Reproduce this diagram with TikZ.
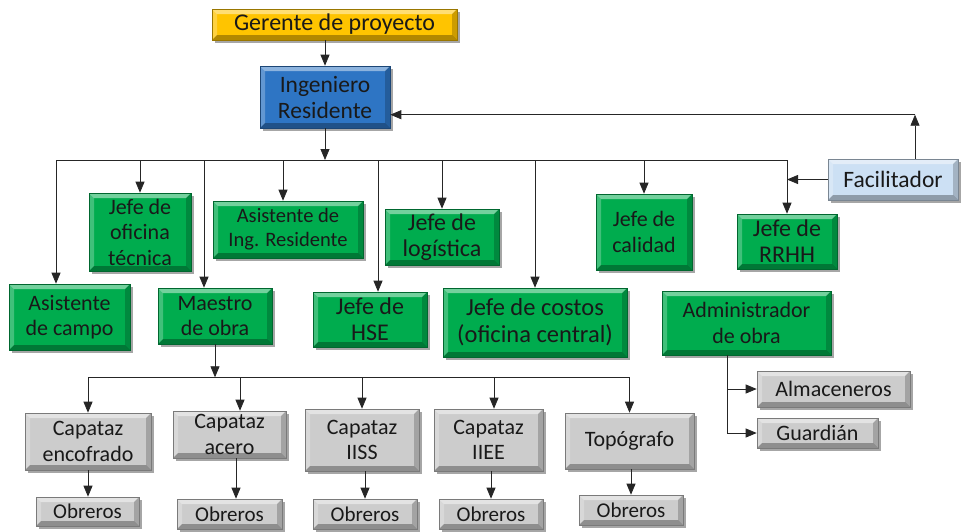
\documentclass[tikz,border=0pt]{standalone}
\usepackage{fontspec}
\setmainfont{Carlito}
\usetikzlibrary{arrows.meta,shadows,calc}
\definecolor{gfill}{RGB}{0,172,78}
\definecolor{yfill}{RGB}{255,196,0}
\definecolor{bfill}{RGB}{46,117,196}
\definecolor{lbfill}{RGB}{204,224,244}
\definecolor{sfill}{RGB}{204,204,204}
\newcommand{\bvA}{(path picture bounding box.north west)}
\newcommand{\bvB}{(path picture bounding box.north east)}
\newcommand{\bvC}{(path picture bounding box.south east)}
\newcommand{\bvD}{(path picture bounding box.south west)}
\tikzset{
  bevel/.style={path picture={
    \fill[white,opacity=.45] \bvA -- \bvB -- ([xshift=-5pt,yshift=-5pt]path picture bounding box.north east) -- ([xshift=5pt,yshift=-5pt]path picture bounding box.north west) -- cycle;
    \fill[white,opacity=.25] \bvA -- ([xshift=5pt,yshift=-5pt]path picture bounding box.north west) -- ([xshift=5pt,yshift=5pt]path picture bounding box.south west) -- \bvD -- cycle;
    \fill[black,opacity=.30] \bvD -- ([xshift=5pt,yshift=5pt]path picture bounding box.south west) -- ([xshift=-5pt,yshift=5pt]path picture bounding box.south east) -- \bvC -- cycle;
    \fill[black,opacity=.20] \bvC -- ([xshift=-5pt,yshift=5pt]path picture bounding box.south east) -- ([xshift=-5pt,yshift=-5pt]path picture bounding box.north east) -- \bvB -- cycle;
  }},
  box/.style={fill=#1, draw=#1!60!black, line width=0.6pt, inner sep=0pt, align=center,
    text=black!90, font=\fontsize{22}{25.5}\selectfont, bevel,
    drop shadow={shadow xshift=2.5pt, shadow yshift=-2.5pt, opacity=0.35, fill=black}},
  gbox/.style={box=gfill},
  sbox/.style={box=sfill},
  ln/.style={draw=black!85, line width=0.8pt},
  arr/.style={ln, -{Triangle[width=9pt,length=11pt]}},
}
\begin{document}
\begin{tikzpicture}[x=1pt,y=-1pt]
\useasboundingbox (0,0) rectangle (961,531);
% top
\node[box=yfill, minimum width=245, minimum height=31, font=\fontsize{24}{27}\selectfont] (ger) at (334.5,24.5) {Gerente de proyecto};
\node[box=bfill, minimum width=130, minimum height=62, font=\fontsize{23.5}{26}\selectfont] (ir) at (325,97) {Ingeniero\\Residente};
\node[box=lbfill, minimum width=130, minimum height=41, font=\fontsize{23.5}{26}\selectfont] (fac) at (893,179.5) {Facilitador};
% green row
\node[gbox, minimum width=121, minimum height=66] (acampo) at (69.5,317) {Asistente\\de campo};
\node[gbox, minimum width=102, minimum height=78] (jot) at (140,232) {Jefe de\\oficina\\técnica};
\node[gbox, minimum width=114, minimum height=56] (maestro) at (215,316) {Maestro\\de obra};
\node[gbox, minimum width=150, minimum height=57, font=\fontsize{20.5}{24}\selectfont] (air) at (288,229.5) {Asistente de\\Ing. Residente};
\node[gbox, minimum width=114, minimum height=55, font=\fontsize{24}{26}\selectfont] (hse) at (370,319.5) {Jefe de\\HSE};
\node[gbox, minimum width=114, minimum height=56, font=\fontsize{24}{26}\selectfont] (log) at (442,237) {Jefe de\\logística};
\node[gbox, minimum width=184, minimum height=69, font=\fontsize{24.5}{27}\selectfont] (costos) at (535,322.5) {Jefe de costos\\(oficina central)};
\node[gbox, minimum width=96, minimum height=76] (cal) at (644,232) {Jefe de\\calidad};
\node[gbox, minimum width=100, minimum height=55, font=\fontsize{24}{26}\selectfont] (rrhh) at (787,241.5) {Jefe de\\RRHH};
\node[gbox, minimum width=169, minimum height=64] (admin) at (746.5,323) {Administrador\\de obra};
% admin subordinates
\node[sbox, minimum width=153, minimum height=36] (alm) at (833.5,389) {Almaceneros};
\node[sbox, minimum width=121, minimum height=30] (guard) at (817.5,433) {Guardián};
% capataces
\node[sbox, minimum width=126, minimum height=57] (cenc) at (88,441.5) {Capataz\\encofrado};
\node[sbox, minimum width=113, minimum height=47] (cacero) at (229.5,434.5) {Capataz\\acero};
\node[sbox, minimum width=114, minimum height=62] (ciiss) at (362,440) {Capataz\\IISS};
\node[sbox, minimum width=109, minimum height=62] (ciiee) at (488.5,440) {Capataz\\IIEE};
\node[sbox, minimum width=129, minimum height=56] (topo) at (629.5,441) {Topógrafo};
% obreros
\node[sbox, minimum width=103, minimum height=29, font=\fontsize{21}{24}\selectfont] (ob1) at (87.5,511.5) {Obreros};
\node[sbox, minimum width=105, minimum height=30, font=\fontsize{21}{24}\selectfont] (ob2) at (229.5,514) {Obreros};
\node[sbox, minimum width=104, minimum height=30, font=\fontsize{21}{24}\selectfont] (ob3) at (365,514) {Obreros};
\node[sbox, minimum width=104, minimum height=30, font=\fontsize{21}{24}\selectfont] (ob4) at (491,514) {Obreros};
\node[sbox, minimum width=104, minimum height=30, font=\fontsize{21}{24}\selectfont] (ob5) at (631,510) {Obreros};

% connectors
\draw[arr] (ger.south -| ir.north) -- (ir.north);
\coordinate (bL) at (56,160);
\coordinate (bR) at (787,160);
\draw[ln] (bL) -- (bR);
\draw[arr] (ir.south) -- (ir.south |- bL);
\draw[arr] (bL) -- (bL |- acampo.north);
\draw[arr] (jot.north |- bL) -- (jot.north);
\draw[arr] ([xshift=-11pt]maestro.north |- bL) -- ([xshift=-11pt]maestro.north);
\draw[arr] ([xshift=-5pt]air.north |- bL) -- ([xshift=-5pt]air.north);
\draw[arr] ([xshift=8pt]hse.north |- bL) -- ([xshift=8pt]hse.north);
\draw[arr] (log.north |- bL) -- (log.north);
\draw[arr] (costos.north |- bL) -- (costos.north);
\draw[arr] (cal.north |- bL) -- (cal.north);
\draw[arr] (bR) -- (rrhh.north);
\draw[arr] (fac.west) -- (rrhh.north |- fac.west);
\coordinate (fc) at ($(fac.north)+(22,-44)$);
\draw[arr] ([xshift=22pt]fac.north) -- (fc);
\draw[arr] (fc) -- (fc -| ir.east);
% admin
\coordinate (ad) at ($(admin.south)+(-19.5,0)$);
\draw[ln] (ad) -- (ad |- guard.west);
\draw[arr] (ad |- alm.west) -- (alm.west);
\draw[arr] (ad |- guard.west) -- (guard.west);
% maestro
\coordinate (b2) at ($(maestro.south)+(0,33)$);
\draw[arr] (maestro.south) -- (b2);
\draw[ln] (b2 -| cenc.north) -- (b2 -| topo.north);
\draw[arr] (b2 -| cenc.north) -- (cenc.north);
\draw[arr] ([xshift=10.5pt]cacero.north |- b2) -- ([xshift=10.5pt]cacero.north);
\draw[arr] (b2 -| ciiss.north) -- (ciiss.north);
\draw[arr] ([xshift=5.5pt]ciiee.north |- b2) -- ([xshift=5.5pt]ciiee.north);
\draw[arr] (b2 -| topo.north) -- (topo.north);
% obreros
\draw[arr] (cenc.south) -- (cenc.south |- ob1.north);
\draw[arr] ([xshift=6.5pt]cacero.south) -- ([xshift=6.5pt]ob2.north);
\draw[arr] (ob3.north |- ciiss.south) -- (ob3.north);
\draw[arr] (ob4.north |- ciiee.south) -- (ob4.north);
\draw[arr] (ob5.north |- topo.south) -- (ob5.north);
\end{tikzpicture}
\end{document}
